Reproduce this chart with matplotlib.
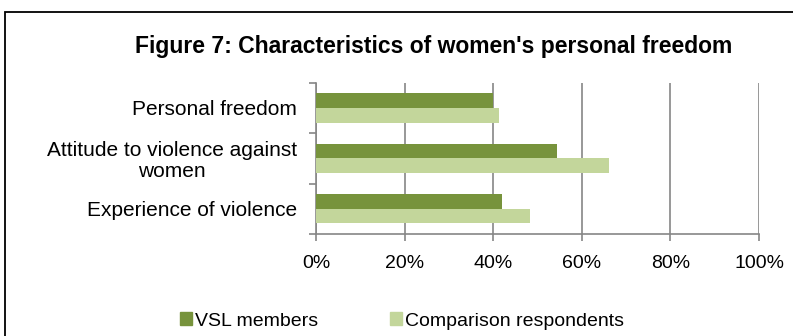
import matplotlib
matplotlib.use('Agg')
import matplotlib.pyplot as plt
from matplotlib.patches import Rectangle, Patch
from matplotlib.ticker import FixedLocator, PercentFormatter

# data (percent)
categories = ['Personal freedom', 'Attitude to violence against\nwomen', 'Experience of violence']
vsl_members = [40.0, 54.5, 42.0]
comparison = [41.2, 66.2, 48.4]
series_names = ['VSL members', 'Comparison respondents']
x_ticks = [0, 20, 40, 60, 80, 100]

dark_green = '#77933C'
light_green = '#C3D69B'
grid_grey = '#868686'

plt.rcParams['font.family'] = ['Liberation Sans', 'DejaVu Sans']

W, H = 793, 336
fig = plt.figure(figsize=(W / 100, H / 100), dpi=100)

# outer chart frame (cropped at right and bottom in the reference)
fig.patches.append(Rectangle((5 / W, -0.2), 1.2, 1.2 - 12 / H,
                             transform=fig.transFigure, fill=False,
                             edgecolor='black', linewidth=1.3))

left, right, top, bottom = 316, 759, 82.7, 234
ax = fig.add_axes([left / W, 1 - bottom / H, (right - left) / W, (bottom - top) / H])

'''Grouped horizontal bars'''
h = 0.29
pos = list(range(len(categories)))
ax.barh([p - h / 2 for p in pos], vsl_members, height=h, color=dark_green, label=series_names[0], zorder=3)
ax.barh([p + h / 2 for p in pos], comparison, height=h, color=light_green, label=series_names[1], zorder=3)

ax.set_xlim(0, 100)
ax.set_ylim(len(categories) - 0.5, -0.5)
ax.set_xticks(x_ticks)
ax.xaxis.set_major_formatter(PercentFormatter(decimals=0))
ax.set_yticks(pos)
ax.set_yticklabels(categories)
ax.yaxis.set_minor_locator(FixedLocator([-0.5, 0.5, 1.5, 2.5]))

ax.grid(axis='x', color=grid_grey, linewidth=1.2, zorder=0)
for s in ['top', 'right']:
    ax.spines[s].set_visible(False)
for s in ['left', 'bottom']:
    ax.spines[s].set_color(grid_grey)
    ax.spines[s].set_linewidth(1.2)

ax.tick_params(axis='x', direction='out', length=5, width=1.2, color=grid_grey,
               labelsize=14, pad=10, labelcolor='black')
ax.tick_params(axis='y', which='major', length=0, labelsize=15, pad=13.5)
ax.tick_params(axis='y', which='minor', direction='out', length=5, width=1.2, color=grid_grey)
for lbl in ax.get_yticklabels():
    lbl.set_multialignment('center')
    lbl.set_linespacing(1.1)

fig.text(433.5 / W, 1 - 47 / H, "Figure 7: Characteristics of women's personal freedom",
         ha='center', va='center', fontsize=16.5, fontweight='bold')

handles = [Patch(color=dark_green), Patch(color=light_green)]
fig.legend(handles, series_names, loc='center', bbox_to_anchor=(402 / W, 1 - 321 / H),
           ncol=2, frameon=False, fontsize=14, handlelength=0.62, handleheight=0.62,
           handletextpad=0.15, columnspacing=3.7)

fig.savefig('out.png', dpi=100)
